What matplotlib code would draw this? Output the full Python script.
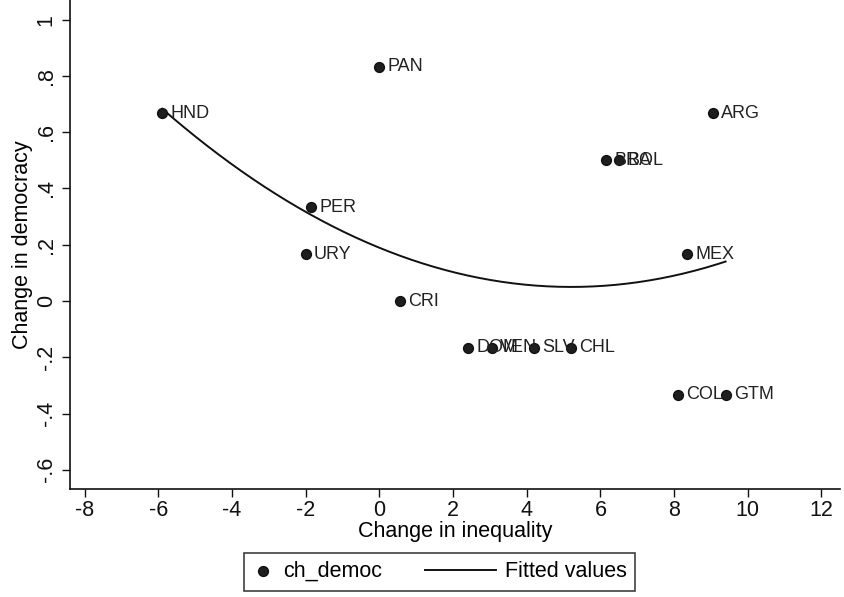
import numpy as np
import matplotlib
matplotlib.use("Agg")
import matplotlib.pyplot as plt
from matplotlib.ticker import FuncFormatter
from matplotlib.legend_handler import HandlerLine2D

plt.rcParams['font.family'] = ['Liberation Sans', 'DejaVu Sans']
plt.rcParams['axes.unicode_minus'] = False

countries = ['HND', 'PAN', 'ARG', 'BRA', 'BOL', 'PER', 'URY', 'CRI',
             'MEX', 'DOM', 'VEN', 'SLV', 'CHL', 'COL', 'GTM']
ch_ineq = [-5.9, 0.0, 9.05, 6.15, 6.5, -1.85, -2.0, 0.55,
           8.35, 2.4, 3.05, 4.2, 5.2, 8.1, 9.4]
ch_democ = [0.667, 0.833, 0.667, 0.5, 0.5, 0.333, 0.167, 0.0,
            0.167, -0.167, -0.167, -0.167, -0.167, -0.333, -0.333]

x = np.array(ch_ineq)
y = np.array(ch_democ)


def stata_fmt(v, pos):
    s = f"{v:.1f}".rstrip('0').rstrip('.')
    s = s.replace('0.', '.')
    if s in ('-0', ''):
        s = '0'
    return s


class LongLine(HandlerLine2D):
    # line handle that reaches back into the column gap, like Stata's legend
    def create_artists(self, legend, orig_handle, xdescent, ydescent,
                       width, height, fontsize, trans):
        arts = super().create_artists(legend, orig_handle, xdescent, ydescent,
                                      width, height, fontsize, trans)
        ext = 2.3 * fontsize
        line = arts[0]
        xd = np.asarray(line.get_xdata(), dtype=float)
        line.set_xdata(np.linspace(xd[0] - ext, xd[-1], len(xd)))
        return arts


fig = plt.figure(figsize=(8.44, 5.97), dpi=100)
ax = fig.add_axes([0.083, 0.181, 0.912, 0.819])

ax.scatter(x, y, s=50, color='#1e1e1e', edgecolors='#111111', zorder=3, label='ch_democ')
for name, xi, yi in zip(countries, x, y):
    ax.annotate(name, (xi, yi), xytext=(6, 0), textcoords='offset points',
                va='center', ha='left', fontsize=13, color='#222222')

coef = np.polyfit(x, y, 2)
xs = np.linspace(x.min(), x.max(), 200)
fit_line, = ax.plot(xs, np.polyval(coef, xs), color='#111111', lw=1.4,
                    label='Fitted values', zorder=2)

ax.set_xlim(-8.4, 12.5)
ax.set_ylim(-0.668, 1.07)
ax.set_xticks(np.arange(-8, 13, 2))
ax.set_yticks(np.arange(-0.6, 1.01, 0.2))
ax.yaxis.set_major_formatter(FuncFormatter(stata_fmt))
ax.tick_params(axis='both', direction='out', length=6, width=1, labelsize=15.5, colors='#111111')
ax.tick_params(axis='x', pad=2)
for lab in ax.get_yticklabels():
    lab.set_rotation(90)
    lab.set_va('center')

ax.spines['top'].set_visible(False)
ax.spines['right'].set_visible(False)
for sp in ('left', 'bottom'):
    ax.spines[sp].set_linewidth(1.2)
    ax.spines[sp].set_color('#111111')

ax.set_xlabel('Change in inequality', fontsize=15.5, labelpad=0)
ax.set_ylabel('Change in democracy', fontsize=15.5, labelpad=2)

leg = ax.legend(loc='upper center', bbox_to_anchor=(0.48, -0.13), ncol=2,
                frameon=True, fancybox=False, fontsize=15.5, handlelength=1.0,
                handletextpad=0.4, columnspacing=4.3, borderpad=0.4,
                borderaxespad=0, edgecolor='#111111',
                handler_map={fit_line: LongLine()})
leg.get_frame().set_linewidth(1.2)

fig.savefig('out.png', dpi=100)
